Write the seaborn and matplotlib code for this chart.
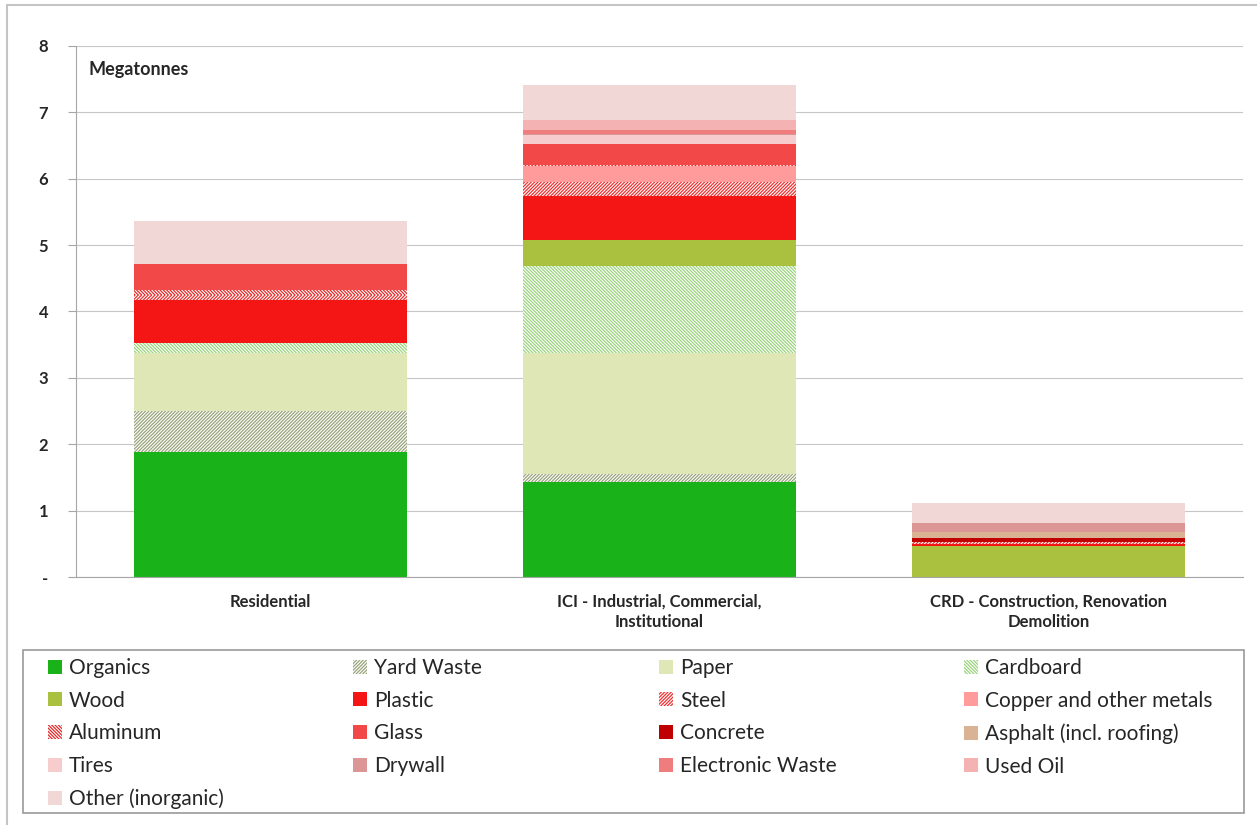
import matplotlib
matplotlib.use("Agg")
import matplotlib.pyplot as plt
from matplotlib.patches import Patch, Rectangle
import numpy as np
import pandas as pd
import seaborn as sns

sns.set_theme(style="white")
plt.rcParams['font.family'] = ['Lato', 'DejaVu Sans']
plt.rcParams['hatch.linewidth'] = 0.9

# ---------------- data ----------------
categories = ["Residential",
              "ICI - Industrial, Commercial,\nInstitutional",
              "CRD - Construction, Renovation\nDemolition"]

materials = ["Organics", "Yard Waste", "Paper", "Cardboard", "Wood", "Plastic",
             "Steel", "Copper and other metals", "Aluminum", "Glass", "Concrete",
             "Asphalt (incl. roofing)", "Tires", "Drywall", "Electronic Waste",
             "Used Oil", "Other (inorganic)"]

organics   = [1.88, 1.43, 0.00]
yard_waste = [0.62, 0.12, 0.00]
paper      = [0.88, 1.83, 0.00]
cardboard  = [0.15, 1.31, 0.00]
wood       = [0.00, 0.39, 0.47]
plastic    = [0.64, 0.66, 0.02]
steel      = [0.08, 0.21, 0.03]
copper     = [0.00, 0.24, 0.00]
aluminum   = [0.07, 0.02, 0.01]
glass      = [0.40, 0.32, 0.00]
concrete   = [0.00, 0.00, 0.06]
asphalt    = [0.00, 0.00, 0.09]
tires      = [0.00, 0.13, 0.00]
drywall    = [0.00, 0.02, 0.14]
ewaste     = [0.00, 0.05, 0.00]
used_oil   = [0.00, 0.16, 0.00]
other      = [0.65, 0.52, 0.29]

series = [organics, yard_waste, paper, cardboard, wood, plastic, steel, copper,
          aluminum, glass, concrete, asphalt, tires, drywall, ewaste, used_oil, other]

yticks = [0, 1, 2, 3, 4, 5, 6, 7, 8]
ytick_labels = ["-", "1", "2", "3", "4", "5", "6", "7", "8"]

FWD = "/" * 10
BCK = "\\" * 10
# styles: (facecolor, hatch, hatchcolor)
styles = [
    ("#19b319", None, None),      # Organics
    ("white", FWD, "#98a47c"),    # Yard Waste
    ("#e0e7b7", None, None),      # Paper
    ("white", BCK, "#9cd47e"),    # Cardboard
    ("#a9c13f", None, None),      # Wood
    ("#f41515", None, None),      # Plastic
    ("white", FWD, "#f03232"),    # Steel
    ("#ff9b9b", None, None),      # Copper
    ("white", BCK, "#e52a2a"),    # Aluminum
    ("#f24848", None, None),      # Glass
    ("#c00000", None, None),      # Concrete
    ("#d9b394", None, None),      # Asphalt
    ("#f7cccc", None, None),      # Tires
    ("#dc9696", None, None),      # Drywall
    ("#f07d7d", None, None),      # Electronic Waste
    ("#f5b2b2", None, None),      # Used Oil
    ("#f2d7d7", None, None),      # Other
]

W, H = 1257, 825
fig = plt.figure(figsize=(W / 100, H / 100), dpi=100)
ax = fig.add_axes([76 / W, 1 - 577 / H, (1243 - 76) / W, (577 - 46) / H])

cum = np.cumsum(np.array(series), axis=0)
for i in range(len(series) - 1, -1, -1):
    fc, hatch, hc = styles[i]
    df = pd.DataFrame({"cat": categories, "val": cum[i]})
    kws = dict(x="cat", y="val", data=df, ax=ax, width=0.7, saturation=1,
               color=fc, linewidth=0, errorbar=None, order=categories)
    if hatch:
        kws.update(hatch=hatch, edgecolor=hc)
    else:
        kws.update(edgecolor=fc)
    sns.barplot(**kws)

ax.set_xlim(-0.5, 2.5)
ax.set_ylim(0, 8)
ax.set_yticks(yticks)
ax.set_yticklabels(ytick_labels, fontsize=12, fontweight="bold")
ax.set_xlabel("")
ax.set_ylabel("")
for lab in ax.get_xticklabels():
    lab.set_fontweight("bold")
    lab.set_fontsize(12)
    lab.set_linespacing(1.35)
ax.tick_params(axis="x", length=0, pad=12)
ax.tick_params(axis="y", length=6, color="#a6a6a6", width=0.8, pad=14, direction="out", left=True)
ax.yaxis.grid(True, color="#c6c6c6", linewidth=0.8)
ax.set_axisbelow(True)
for s in ["top", "right"]:
    ax.spines[s].set_visible(False)
for s in ["left", "bottom"]:
    ax.spines[s].set_color("#a6a6a6")
    ax.spines[s].set_linewidth(0.8)

ax.text(12 / 1167, 0.955, "Megatonnes", transform=ax.transAxes, fontsize=13,
        fontweight="bold", va="center", ha="left")

# legend: 4 columns laid out row-major
handles = []
for (fc, hatch, hc), name in zip(styles, materials):
    if hatch:
        handles.append(Patch(facecolor=fc, hatch=hatch, edgecolor=hc, linewidth=0, label=name))
    else:
        handles.append(Patch(facecolor=fc, edgecolor=fc, linewidth=0, label=name))

col_x = [48, 353, 659, 964]
for c in range(4):
    idx = list(range(c, len(materials), 4))
    fig.legend(handles=[handles[k] for k in idx], labels=[materials[k] for k in idx],
               loc="upper left", bbox_to_anchor=(col_x[c] / W, 1 - 658 / H),
               frameon=False, fontsize=15, borderpad=0, borderaxespad=0,
               handlelength=0.65, handleheight=0.65, handletextpad=0.35,
               labelspacing=0.61)

fig.patches.append(Rectangle((23 / W, 1 - 813 / H), (1244 - 23) / W, (813 - 650) / H,
                             transform=fig.transFigure, fill=False,
                             edgecolor="#9a9a9a", linewidth=1.2))
fig.patches.append(Rectangle((7 / W, -0.1), 1.2, 1.1 - 5 / H,
                             transform=fig.transFigure, fill=False,
                             edgecolor="#c4c4c4", linewidth=1.5))

fig.savefig("out.png", dpi=100)
